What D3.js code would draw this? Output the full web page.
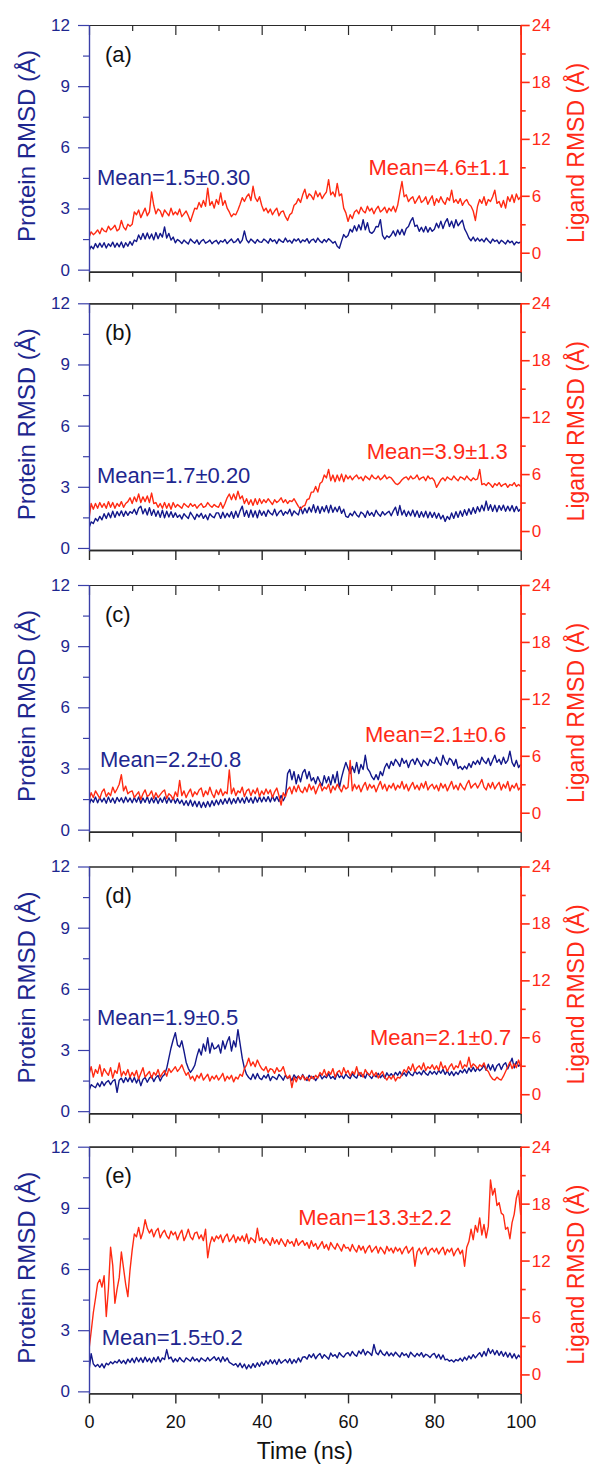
<!DOCTYPE html>
<html>
<head>
<meta charset="utf-8">
<script src="https://cdn.jsdelivr.net/npm/d3@7/dist/d3.min.js"></script>
<style>
  html, body { margin: 0; padding: 0; background: #ffffff; }
  svg { display: block; }
  text { font-family: "Liberation Sans", Arial, Helvetica, sans-serif; }
</style>
</head>
<body>
<svg id="chart" width="593" height="1466"></svg>
<script>
// ---- sampling grid (ns), one frame every 0.5 ns ----
const timeNs = d3.range(0, 100.5, 0.5);

// ---- panel labels and tick labels ----
const panelLabels = ["(a)", "(b)", "(c)", "(d)", "(e)"];
const timeTicks = [0, 20, 40, 60, 80, 100];
const timeMinorTicks = [10, 30, 50, 70, 90];
const proteinTicks = [0, 3, 6, 9, 12];
const proteinMinorTicks = [1.5, 4.5, 7.5, 10.5];
const ligandTicks = [0, 6, 12, 18, 24];
const ligandMinorTicks = [3, 9, 15, 21];

// ---- mean ± sd annotations ----
const proteinMeans = ["Mean=1.5±0.30", "Mean=1.7±0.20", "Mean=2.2±0.8", "Mean=1.9±0.5", "Mean=1.5±0.2"];
const ligandMeans  = ["Mean=4.6±1.1", "Mean=3.9±1.3", "Mean=2.1±0.6", "Mean=2.1±0.7", "Mean=13.3±2.2"];

// ---- protein backbone RMSD (Å) ----
const proteinA = [
  0.92,1.15,1.02,1.28,1.08,1.3,1.1,1.32,1.06,1.27,1.14,1.35,1.1,1.3,1.12,1.36,1.08,1.32,1.15,1.38,
  1.2,1.45,1.38,1.7,1.48,1.78,1.5,1.8,1.52,1.75,1.46,1.82,1.52,1.78,1.6,2.1,1.55,1.78,1.45,1.6,
  1.32,1.48,1.4,1.28,1.45,1.35,1.26,1.5,1.38,1.3,1.46,1.24,1.4,1.48,1.3,1.36,1.45,1.27,1.38,1.44,
  1.26,1.42,1.35,1.48,1.28,1.4,1.5,1.33,1.38,1.52,1.3,1.45,1.9,1.46,1.32,1.5,1.4,1.3,1.48,1.36,
  1.34,1.5,1.42,1.3,1.52,1.38,1.46,1.28,1.5,1.4,1.34,1.55,1.36,1.44,1.3,1.5,1.4,1.52,1.32,1.46,
  1.38,1.52,1.3,1.45,1.5,1.34,1.55,1.4,1.32,1.48,1.36,1.52,1.42,1.3,1.38,1.15,1.05,1.4,1.72,1.58,
  1.68,1.98,1.85,2.15,1.9,2.2,1.95,2.45,1.95,2.3,1.85,1.78,1.88,2.12,2.1,2.45,1.68,1.5,1.66,1.58,
  1.7,1.9,1.65,1.95,1.72,1.98,1.7,2.02,2.12,2.38,2.55,2.12,2.18,1.88,2.08,1.85,2.12,1.84,2.06,1.88,
  1.98,2.28,2.05,2.38,2.02,2.32,2.5,2.12,2.38,2.05,2.45,2.15,2.3,2.42,2.0,1.8,1.55,1.42,1.6,1.4,
  1.55,1.4,1.5,1.36,1.55,1.42,1.3,1.5,1.38,1.45,1.28,1.44,1.36,1.26,1.44,1.32,1.4,1.22,1.36,1.3,
  1.36
];
const proteinB = [
  0.98,1.28,1.2,1.45,1.32,1.55,1.38,1.68,1.45,1.72,1.48,1.8,1.5,1.78,1.58,1.82,1.55,1.8,1.6,1.78,
  1.7,1.9,1.64,1.95,2.05,1.68,1.92,1.62,1.98,1.6,1.88,1.55,1.82,1.5,1.85,1.48,1.8,1.52,1.78,1.5,
  1.72,1.5,1.62,1.42,1.68,1.55,1.45,1.75,1.58,1.4,1.66,1.52,1.7,1.45,1.62,1.38,1.68,1.55,1.48,1.72,
  1.72,1.45,1.75,1.48,1.7,1.52,1.78,1.46,1.8,1.5,1.82,2.05,1.55,1.84,1.5,1.86,1.52,1.82,1.48,1.85,
  1.6,1.8,1.55,1.86,1.7,1.62,1.9,1.58,1.75,1.85,1.6,1.78,1.68,1.9,1.58,1.82,1.7,1.62,2.0,1.68,
  1.95,1.72,2.0,1.76,2.12,1.74,2.05,1.7,2.02,1.78,2.08,1.72,2.1,1.75,2.0,1.78,2.04,1.7,1.9,1.55,
  1.5,1.7,1.58,1.8,1.62,1.52,1.76,1.68,1.5,1.82,1.6,1.74,1.55,1.85,1.66,1.56,1.78,1.62,1.72,1.8,
  1.58,1.82,2.0,1.6,2.08,1.62,1.85,1.55,1.8,1.58,1.86,1.54,1.82,1.5,1.78,1.52,1.8,1.48,1.76,1.5,
  1.74,1.46,1.7,1.42,1.6,1.3,1.55,1.4,1.72,1.45,1.78,1.5,1.82,1.55,1.88,1.6,1.92,1.65,1.98,1.7,
  2.02,1.78,2.1,1.82,2.3,1.85,2.12,1.8,2.1,1.78,2.08,1.85,2.1,1.8,2.05,1.82,2.08,1.78,2.04,1.8,
  1.92
];
const proteinC = [
  1.2,1.5,1.35,1.6,1.32,1.58,1.36,1.55,1.3,1.6,1.34,1.55,1.3,1.58,1.38,1.56,1.32,1.6,1.36,1.55,
  1.32,1.58,1.35,1.6,1.3,1.55,1.34,1.62,1.3,1.56,1.32,1.58,1.28,1.55,1.34,1.6,1.3,1.56,1.33,1.58,
  1.3,1.52,1.28,1.45,1.2,1.42,1.18,1.45,1.15,1.4,1.12,1.38,1.08,1.35,1.1,1.38,1.12,1.42,1.18,1.45,
  1.22,1.48,1.25,1.52,1.28,1.55,1.26,1.52,1.3,1.58,1.32,1.55,1.3,1.6,1.34,1.56,1.3,1.6,1.35,1.62,
  1.36,1.6,1.38,1.62,1.36,1.65,1.4,1.62,1.38,1.68,1.42,1.64,2.75,2.95,2.45,2.85,2.25,2.7,2.35,2.8,
  2.95,2.5,2.85,2.4,2.55,2.25,2.6,2.35,2.15,2.65,2.3,2.6,2.2,2.7,2.3,2.85,2.05,2.55,2.95,3.3,
  3.0,2.75,3.1,2.8,3.3,2.75,3.2,2.95,3.65,3.0,2.85,2.6,2.45,2.7,2.45,2.85,2.65,3.05,3.25,3.0,
  3.35,3.15,3.45,3.3,3.1,3.5,3.25,3.4,3.05,3.35,3.45,3.2,3.5,3.3,3.1,3.4,3.28,3.15,3.45,3.3,
  3.25,3.55,3.3,3.15,3.65,3.35,3.2,3.5,3.4,3.15,3.45,3.0,3.1,2.95,3.12,2.98,3.25,3.05,3.35,3.2,
  3.4,3.2,3.55,3.35,3.25,3.5,3.15,3.4,3.65,3.3,3.45,3.2,3.55,3.25,3.4,3.85,3.3,3.1,3.4,3.05,
  3.2
];
const proteinD = [
  1.0,1.3,1.22,1.15,1.38,1.2,1.45,1.25,1.42,1.5,1.3,1.48,1.55,0.92,1.52,1.62,1.4,1.65,1.45,1.68,
  1.42,1.65,1.38,1.62,1.25,1.55,1.65,1.42,1.62,1.72,1.45,1.65,1.75,1.48,1.7,1.8,2.1,2.6,3.1,3.5,
  3.85,3.25,3.15,3.45,2.95,2.4,2.1,1.9,2.05,2.25,2.7,3.05,2.75,3.3,2.95,3.6,2.85,3.35,3.05,3.1,
  3.25,2.85,3.45,3.05,3.4,3.65,2.95,3.45,3.15,4.0,3.3,2.6,2.1,1.8,1.65,1.55,1.82,1.58,1.85,1.62,
  1.55,1.75,1.62,1.82,1.5,1.7,1.64,1.55,1.8,1.68,1.52,1.76,1.6,1.7,1.5,1.78,1.62,1.72,1.55,1.8,
  1.6,1.5,1.76,1.62,1.7,1.5,1.66,1.8,1.58,1.72,1.64,1.84,1.6,1.7,1.56,1.86,1.65,1.76,1.6,1.82,
  1.68,1.6,1.84,1.7,1.62,1.9,1.7,1.8,1.62,1.88,1.72,1.6,1.8,1.68,1.86,1.64,1.78,1.62,1.88,1.7,
  1.84,1.7,1.9,1.76,1.94,1.74,1.88,1.72,1.96,1.8,1.74,1.98,1.82,1.92,1.78,2.0,1.84,1.76,1.96,1.82,
  1.95,1.8,2.0,1.86,2.05,1.8,1.98,1.76,1.94,1.74,1.92,1.8,2.0,1.88,2.06,1.86,2.12,1.94,2.15,1.95,
  2.13,1.98,2.08,2.26,2.0,2.3,2.02,2.28,1.97,2.23,2.33,2.04,2.28,2.38,2.07,2.33,2.6,2.12,2.43,2.2,
  2.3
];
const proteinE = [
  1.0,1.85,1.35,1.22,1.32,1.18,1.35,1.15,1.38,1.3,1.45,1.35,1.48,1.4,1.55,1.38,1.52,1.35,1.58,1.42,
  1.62,1.4,1.66,1.45,1.64,1.42,1.68,1.46,1.62,1.4,1.66,1.46,1.7,1.44,1.64,1.56,2.05,1.6,1.68,1.44,
  1.6,1.46,1.66,1.52,1.44,1.64,1.56,1.48,1.68,1.5,1.6,1.45,1.64,1.55,1.48,1.66,1.5,1.6,1.7,1.52,
  1.66,1.44,1.7,1.48,1.64,1.42,1.36,1.28,1.36,1.2,1.38,1.16,1.34,1.1,1.3,1.14,1.36,1.18,1.4,1.22,
  1.44,1.28,1.5,1.34,1.55,1.36,1.54,1.32,1.58,1.38,1.48,1.56,1.4,1.6,1.36,1.56,1.4,1.64,1.44,1.68,
  1.7,1.58,1.8,1.66,1.84,1.6,1.76,1.86,1.62,1.8,1.7,1.58,1.88,1.72,1.8,1.64,1.9,1.76,1.68,1.84,
  1.9,1.74,1.96,1.8,1.72,1.98,1.84,2.06,1.78,1.96,1.88,1.76,2.3,1.9,1.8,2.02,1.84,1.76,1.94,1.74,
  1.88,1.74,1.92,1.8,1.68,1.9,1.76,1.84,1.66,1.92,1.8,1.7,1.86,1.74,1.9,1.68,1.82,1.76,1.66,1.8,
  1.86,1.64,1.82,1.58,1.78,1.54,1.58,1.48,1.54,1.44,1.56,1.5,1.62,1.48,1.68,1.54,1.74,1.6,1.8,1.64,
  1.78,1.9,1.7,1.96,1.74,2.1,1.86,2.04,1.8,2.0,1.76,1.96,1.72,1.92,1.68,1.88,1.64,1.84,1.6,1.78,
  1.65
];

// ---- ligand heavy-atom RMSD (Å) ----
const ligandA = [
  1.6,2.2,1.9,2.1,2.4,2.0,2.6,2.3,2.2,2.8,2.4,2.6,2.9,2.3,2.5,3.4,2.7,2.4,3.0,2.8,
  3.0,4.3,4.0,4.5,3.7,4.2,4.7,3.9,4.3,6.4,5.0,4.1,4.6,4.4,3.8,4.5,4.2,3.9,4.7,4.0,
  4.3,4.0,4.6,3.8,4.1,4.4,3.9,3.3,4.0,4.7,4.6,5.3,4.8,5.5,4.9,6.8,5.0,5.4,4.7,5.6,
  5.1,6.3,5.0,5.5,4.7,4.3,3.8,4.1,4.0,4.5,5.1,5.8,5.4,5.9,6.2,5.5,7.0,5.8,5.4,5.9,
  5.0,4.4,4.7,4.2,4.6,4.0,4.4,4.7,3.9,4.3,4.4,3.8,3.4,4.0,4.2,5.0,5.2,5.7,5.3,6.1,
  6.7,5.7,6.2,6.0,5.6,6.5,5.9,6.3,5.7,6.1,6.4,7.7,6.1,6.4,5.9,7.3,6.0,6.2,4.7,4.2,
  3.3,4.0,3.6,4.3,4.5,4.1,4.8,4.4,4.2,4.9,4.4,4.7,4.1,4.6,4.9,4.3,4.5,4.8,4.2,4.7,
  4.4,4.9,4.3,5.0,6.3,7.5,5.9,6.1,5.4,5.7,5.9,5.2,5.6,6.0,5.3,5.5,5.9,5.1,5.6,6.0,
  5.0,5.7,5.3,5.9,5.4,5.1,5.8,5.5,6.6,5.3,5.6,5.2,5.7,5.0,5.4,5.6,5.1,4.9,4.4,3.4,
  4.9,5.6,5.2,5.9,5.0,5.6,5.4,5.9,6.6,5.2,5.4,4.8,5.5,4.7,5.9,5.4,6.1,5.3,6.2,5.6,
  5.9
];
const ligandB = [
  1.3,2.9,2.3,2.9,2.4,3.0,2.5,2.9,2.4,3.1,2.5,3.0,2.4,2.9,2.6,3.1,2.5,2.9,3.1,3.5,
  2.9,3.6,3.1,3.9,3.0,3.6,3.1,3.7,3.0,4.0,2.9,3.0,2.5,2.9,2.4,3.0,2.4,2.9,2.3,3.0,
  2.5,2.8,2.6,2.4,2.9,2.7,2.5,2.9,2.6,2.8,2.4,2.7,2.9,2.5,2.6,3.0,2.7,2.5,2.8,2.6,
  2.5,3.0,2.4,2.9,3.5,3.9,3.3,3.9,3.3,4.2,3.4,3.7,2.9,3.4,2.8,3.3,2.7,3.4,2.8,3.4,
  2.9,3.3,3.0,3.4,3.1,2.8,3.3,3.0,3.2,3.5,3.0,3.3,2.9,3.2,3.1,3.4,3.0,2.6,2.3,2.6,
  2.7,3.3,3.4,4.1,4.1,4.7,4.1,5.0,5.2,5.9,5.6,6.5,5.3,5.9,5.2,5.9,5.3,6.0,5.2,5.9,
  5.5,5.8,5.4,5.7,5.9,5.5,5.7,5.3,5.8,5.6,5.4,5.9,5.6,5.5,5.8,5.4,5.6,5.9,5.5,5.7,
  5.6,5.3,5.0,4.9,5.1,5.4,5.6,5.7,5.4,5.8,5.5,5.6,5.9,5.4,5.6,5.7,5.3,5.8,5.5,5.6,
  5.3,4.6,5.0,5.4,5.6,5.3,5.7,5.5,5.4,5.8,5.5,5.3,5.7,5.6,5.4,5.8,5.5,5.3,5.6,5.4,
  5.5,6.5,4.9,5.0,4.8,5.1,4.9,4.6,5.0,4.8,5.1,4.7,4.9,5.0,4.6,4.9,4.8,5.1,4.7,4.9,
  4.7
];
const ligandC = [
  1.3,2.1,1.6,2.3,1.9,1.5,2.2,2.5,1.7,2.1,1.8,2.7,2.1,2.5,3.0,4.0,2.3,2.8,2.0,2.2,
  2.3,1.6,1.9,2.2,1.4,2.0,2.4,1.7,1.9,2.3,1.5,2.1,1.6,1.9,2.2,2.4,1.5,2.0,1.8,1.4,
  2.2,1.7,3.4,1.8,2.3,1.6,2.1,2.5,1.7,2.2,1.9,2.4,2.6,1.7,2.3,1.9,2.7,2.0,1.6,2.4,
  1.9,2.5,1.8,2.2,2.0,4.5,2.0,2.6,1.8,2.3,2.1,2.7,1.7,2.3,2.5,1.8,2.4,2.0,2.6,1.7,
  2.3,1.9,2.5,2.0,2.4,1.6,2.2,2.6,1.8,0.8,2.1,1.7,2.4,2.7,2.0,2.8,2.2,2.9,2.3,2.1,
  2.7,2.2,3.0,2.4,2.8,2.0,2.6,3.1,2.3,2.7,2.5,3.0,2.1,2.8,2.4,3.0,2.6,2.2,2.9,2.5,
  2.7,5.5,2.3,3.0,2.5,2.9,2.2,2.8,3.2,2.4,3.0,2.6,2.9,2.2,2.8,3.3,2.5,3.0,2.3,2.9,
  2.6,3.1,2.4,2.9,2.6,3.3,2.5,3.0,2.3,2.8,3.2,2.5,2.9,2.4,3.1,2.6,3.3,2.4,2.8,3.0,
  2.5,2.9,2.3,3.1,2.6,3.0,2.3,2.8,3.3,2.5,2.9,2.4,3.1,2.7,2.4,3.0,3.4,2.6,2.9,3.1,
  2.6,3.0,3.5,2.7,2.4,3.1,2.6,3.2,2.5,2.9,3.2,2.4,3.0,2.6,3.3,2.3,2.9,2.6,3.1,2.4,
  2.7
];
const ligandD = [
  2.1,2.9,1.8,2.6,2.2,3.1,1.9,2.7,2.3,2.0,2.8,1.7,2.5,2.2,3.3,1.9,2.4,2.0,2.6,1.8,
  2.3,1.9,2.5,1.6,2.2,2.8,1.8,2.1,2.4,1.7,2.3,2.0,2.6,1.8,2.2,2.5,1.9,2.7,2.3,2.6,
  2.9,2.4,2.7,3.1,2.5,2.0,2.3,1.6,1.9,1.4,2.0,1.7,2.2,1.5,1.8,2.1,1.4,1.9,1.6,2.0,
  1.5,1.8,2.2,1.4,1.9,1.6,2.0,1.3,1.8,1.6,2.1,1.9,2.7,3.1,3.8,3.0,3.4,2.9,3.6,3.1,
  2.7,2.5,2.9,2.3,2.7,2.6,2.2,2.8,2.4,2.5,2.9,2.1,1.7,2.0,0.7,1.8,1.3,1.9,1.6,2.0,
  1.5,1.8,1.4,1.9,1.6,2.0,1.7,2.3,2.0,2.6,1.9,2.4,2.1,2.7,1.8,2.3,2.5,2.0,2.8,2.2,
  2.5,1.9,2.4,2.1,2.9,2.0,2.3,1.8,2.6,2.2,2.0,2.5,1.9,2.3,1.7,2.1,2.4,1.8,1.5,1.9,
  1.6,2.0,1.4,1.8,1.7,2.1,2.6,2.3,2.9,2.5,3.2,2.4,2.8,3.0,2.6,3.3,2.5,2.9,2.7,3.1,
  2.6,3.0,2.5,3.4,2.7,3.0,2.4,2.9,3.2,2.6,3.0,2.8,3.5,2.7,3.1,2.9,3.9,2.8,3.2,3.0,
  2.7,3.1,2.9,3.3,2.6,2.4,1.9,1.6,1.5,1.8,1.6,1.5,1.9,2.4,2.9,3.4,2.7,3.2,2.8,3.6,
  2.9
];
const ligandE = [
  2.6,4.5,6.5,8.0,9.6,10.0,9.2,10.4,6.1,9.0,13.4,11.5,7.5,9.0,10.2,12.9,11.2,9.5,8.2,11.0,
  13.1,14.8,14.5,15.5,14.3,15.0,16.3,15.4,14.9,15.3,14.5,15.1,15.4,14.4,14.9,15.2,14.6,14.3,15.1,14.7,
  15.0,14.2,14.8,15.2,14.1,14.6,15.3,14.5,14.2,14.9,15.0,14.3,14.7,14.1,15.3,12.3,13.7,14.5,14.0,14.6,
  14.3,14.7,13.9,14.5,14.8,14.0,14.3,14.7,13.9,14.5,14.1,14.6,14.0,14.8,13.8,14.4,14.2,13.9,15.4,14.1,
  14.4,13.8,14.3,14.0,13.6,14.4,13.8,14.2,13.7,14.3,13.9,13.5,14.2,13.8,14.0,13.5,14.3,13.6,13.9,14.1,
  13.6,13.9,13.3,14.1,13.5,13.8,13.2,13.6,14.0,13.3,13.7,13.1,13.9,13.5,13.2,13.8,13.4,13.0,13.7,13.3,
  13.4,13.0,13.7,13.2,12.9,13.6,13.1,13.5,12.8,13.3,13.6,12.9,13.2,13.5,12.8,13.4,13.1,12.7,13.5,13.0,
  13.3,12.8,13.4,13.0,13.3,12.7,13.2,13.5,12.8,13.1,13.4,11.4,12.9,13.3,12.7,13.2,13.4,12.6,13.1,13.3,
  12.9,13.3,12.7,13.1,13.4,12.6,13.2,12.9,13.3,12.5,13.0,13.3,12.7,13.1,11.4,13.4,14.0,15.3,14.2,15.7,
  15.0,16.5,14.7,15.8,14.4,15.6,20.5,18.9,19.6,17.8,18.1,17.0,16.8,15.3,15.5,14.3,16.0,16.9,18.6,19.4,
  16.8
];

const proteinSeries = [proteinA, proteinB, proteinC, proteinD, proteinE];
const ligandSeries  = [ligandA, ligandB, ligandC, ligandD, ligandE];

// ---- layout ----
const W = 593, H = 1466;
const plotLeft = 89, plotRight = 520.7, panelH = 246.7;
const panelTops = [25, 303.3, 585, 866.5, 1146.7];
// label anchors (x, baseline offset from panel top)
const proteinMeanPos = [[97, 160], [97, 180], [100, 181.7], [97, 158.5], [101.7, 198.3]];
const ligandMeanPos  = [[368.5, 150], [366.7, 156], [365, 156.7], [370, 178.5], [298.3, 78.3]];

const NAVY_LINE = "#12178a";
const NAVY_TEXT = "#1e278f";
const RED_LINE = "#ff2a12";
const RED_TEXT = "#ff2a17";
const AXIS_DARK = "#2a2a2a";

const svg = d3.select("#chart");
svg.append("rect").attr("width", W).attr("height", H).attr("fill", "#ffffff");

const x = d3.scaleLinear().domain([0, 100]).range([plotLeft, plotRight]);

panelTops.forEach((top, i) => {
  const bottom = top + panelH;
  const yP = d3.scaleLinear().domain([-0.1, 12]).range([bottom, top]);
  const yL = d3.scaleLinear().domain([-2, 24]).range([bottom, top]);
  const g = svg.append("g").attr("class", "panel");

  const clipId = "clip" + i;
  g.append("clipPath").attr("id", clipId)
    .append("rect").attr("x", plotLeft).attr("y", top)
    .attr("width", plotRight - plotLeft).attr("height", panelH);

  const lineP = d3.line().x((d, k) => x(timeNs[k])).y(d => yP(d));
  const lineL = d3.line().x((d, k) => x(timeNs[k])).y(d => yL(d));

  const traces = g.append("g").attr("clip-path", `url(#${clipId})`);
  traces.append("path").datum(proteinSeries[i])
    .attr("d", lineP).attr("fill", "none")
    .attr("stroke", NAVY_LINE).attr("stroke-width", 1.4).attr("stroke-linejoin", "round");
  traces.append("path").datum(ligandSeries[i])
    .attr("d", lineL).attr("fill", "none")
    .attr("stroke", RED_LINE).attr("stroke-width", 1.4).attr("stroke-linejoin", "round");

  // top axis (ticks inward)
  const topMajor = g.append("g").attr("transform", `translate(0,${top})`)
    .call(d3.axisBottom(x).tickValues(timeTicks).tickSize(10).tickSizeOuter(0).tickFormat(""));
  const topMinor = g.append("g").attr("transform", `translate(0,${top})`)
    .call(d3.axisBottom(x).tickValues(timeMinorTicks).tickSize(6).tickSizeOuter(0).tickFormat(""));
  [topMajor, topMinor].forEach(a => {
    a.selectAll("path,line").attr("stroke", AXIS_DARK).attr("stroke-width", 1.2);
  });

  // bottom axis (ticks outward)
  const last = i === panelTops.length - 1;
  const botMajor = g.append("g").attr("transform", `translate(0,${bottom})`)
    .call(d3.axisBottom(x).tickValues(timeTicks).tickSize(10).tickSizeOuter(0).tickPadding(11.5)
      .tickFormat(last ? d3.format("d") : ""));
  const botMinor = g.append("g").attr("transform", `translate(0,${bottom})`)
    .call(d3.axisBottom(x).tickValues(timeMinorTicks).tickSize(5).tickSizeOuter(0).tickFormat(""));
  [botMajor, botMinor].forEach(a => {
    a.selectAll("path,line").attr("stroke", AXIS_DARK).attr("stroke-width", 1.4);
  });
  botMajor.selectAll("text").attr("font-size", 18).attr("fill", "#111")
    .style("font-family", '"Liberation Sans", Arial, sans-serif');

  // left protein axis
  const leftMajor = g.append("g").attr("transform", `translate(${plotLeft},0)`)
    .call(d3.axisLeft(yP).tickValues(proteinTicks).tickSize(11).tickSizeOuter(0).tickPadding(8));
  const leftMinor = g.append("g").attr("transform", `translate(${plotLeft},0)`)
    .call(d3.axisLeft(yP).tickValues(proteinMinorTicks).tickSize(6).tickSizeOuter(0).tickFormat(""));
  [leftMajor, leftMinor].forEach(a => {
    a.selectAll("path,line").attr("stroke", "#3a3fa8").attr("stroke-width", 1.2);
  });
  leftMajor.selectAll("text").attr("font-size", 17).attr("fill", NAVY_TEXT)
    .style("font-family", '"Liberation Sans", Arial, sans-serif');

  // right ligand axis
  const rightMajor = g.append("g").attr("transform", `translate(${plotRight},0)`)
    .call(d3.axisRight(yL).tickValues(ligandTicks).tickSize(9).tickSizeOuter(0).tickPadding(2));
  const rightMinor = g.append("g").attr("transform", `translate(${plotRight},0)`)
    .call(d3.axisRight(yL).tickValues(ligandMinorTicks).tickSize(5).tickSizeOuter(0).tickFormat(""));
  [rightMajor, rightMinor].forEach(a => {
    a.selectAll("path,line").attr("stroke", RED_LINE).attr("stroke-width", 1.6);
  });
  rightMajor.selectAll("text").attr("font-size", 17).attr("fill", RED_TEXT)
    .style("font-family", '"Liberation Sans", Arial, sans-serif');

  // axis titles
  g.append("text")
    .attr("transform", `translate(34.5,${top + 121}) rotate(-90)`)
    .attr("text-anchor", "middle").attr("font-size", 24).attr("fill", NAVY_TEXT)
    .text("Protein RMSD (Å)");
  g.append("text")
    .attr("transform", `translate(584,${top + 128}) rotate(-90)`)
    .attr("text-anchor", "middle").attr("font-size", 23).attr("fill", RED_TEXT)
    .text("Ligand RMSD (Å)");

  // panel label
  g.append("text").attr("x", 105).attr("y", top + 36.5)
    .attr("font-size", 22).attr("fill", "#111").text(panelLabels[i]);

  // mean annotations
  g.append("text").attr("x", proteinMeanPos[i][0]).attr("y", top + proteinMeanPos[i][1])
    .attr("font-size", 22).attr("fill", NAVY_TEXT).text(proteinMeans[i]);
  g.append("text").attr("x", ligandMeanPos[i][0]).attr("y", top + ligandMeanPos[i][1])
    .attr("font-size", 22).attr("fill", RED_TEXT).text(ligandMeans[i]);
});

// x-axis title
svg.append("text").attr("x", (plotLeft + plotRight) / 2).attr("y", 1459)
  .attr("text-anchor", "middle").attr("font-size", 23).attr("fill", "#111")
  .text("Time (ns)");
</script>
</body>
</html>
